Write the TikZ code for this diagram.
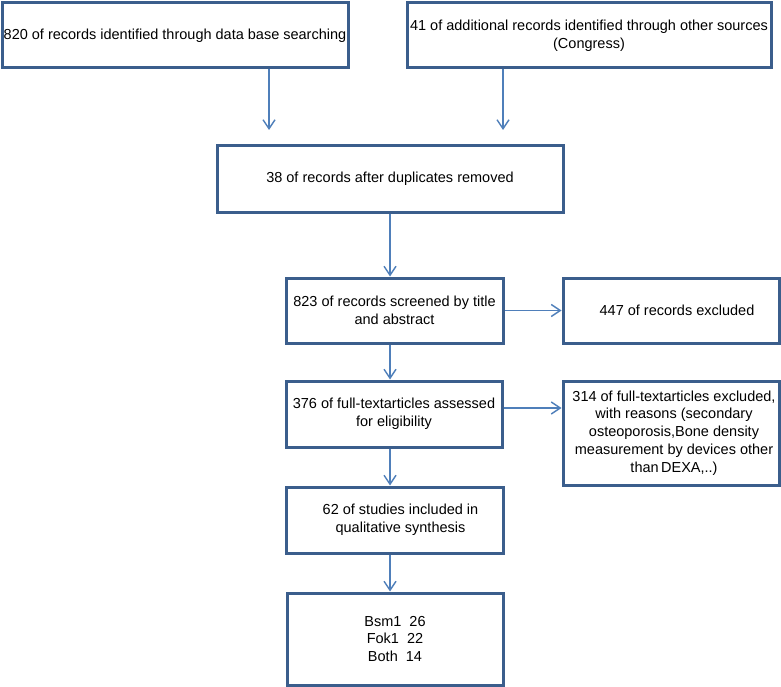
\documentclass[tikz,border=0pt]{standalone}
\usepackage{fontspec}
\setmainfont{Liberation Sans}
\usetikzlibrary{arrows.meta}
\definecolor{boxline}{HTML}{3B5E8C}
\definecolor{arrowline}{HTML}{4F7FBA}
\tikzset{
  box/.style={draw=boxline, line width=3pt, fill=white, inner sep=0pt, align=center,
    font=\fontsize{14.5}{17.8}\selectfont},
  flow/.style={draw=arrowline, line width=1.4pt,
    -{Straight Barb[length=9pt,width=12pt,line width=1.4pt]}}
}
\begin{document}
\begin{tikzpicture}[x=1pt,y=-1pt]
\useasboundingbox (0,0) rectangle (781,687);
\node[box, minimum width=346pt, minimum height=65pt] (b1) at (175,35.5) {820 of records identified through data base searching};
\node[box, minimum width=364pt, minimum height=65pt] (b2) at (589,35.5) {41 of additional records identified through other sources\\(Congress)};
\node[box, minimum width=346pt, minimum height=66pt] (b3) at (390,179) {38 of records after duplicates removed};
\node[box, minimum width=217pt, minimum height=65pt] (b4) at (394.5,310.5) {823 of records screened by title\\and abstract};
\node[box, minimum width=216pt, minimum height=65pt] (b5) at (671,310.5) {\hspace*{12pt}447 of records excluded};
\node[box, minimum width=216pt, minimum height=104pt] (b7) at (671,433) {\hspace*{6pt}314 of full-textarticles excluded,\\\hspace*{6pt}with reasons (secondary\\\hspace*{6pt}osteoporosis,Bone density\\\hspace*{6pt}measurement by devices other\\\hspace*{6pt}than\,DEXA,..)};
\node[box, minimum width=216pt, minimum height=66pt] (b6) at (394,414) {376 of full-textarticles assessed\\for eligibility};
\node[box, minimum width=217pt, minimum height=66pt] (b8) at (394.5,520) {\hspace*{12pt}62 of studies included in\\\hspace*{12pt}qualitative synthesis};
\node[box, minimum width=216pt, minimum height=92pt] (b9) at (395,639) {Bsm1\ \ 26\\Fok1\ \ 22\\Both\ \ 14};
\coordinate (e1) at (269,130);
\coordinate (e2) at (503,130);
\draw[flow] (b1.south -| e1) -- (e1);
\draw[flow] (b2.south -| e2) -- (e2);
\draw[flow] (b3.south) -- (b3.south |- b4.north);
\draw[flow] (b4.east) -- (b5.west);
\draw[flow] (b3.south |- b4.south) -- (b3.south |- b6.north);
\draw[flow] ([yshift=6pt]b6.east) -- ([yshift=6pt]b6.east -| b7.west);
\draw[flow] (b3.south |- b6.south) -- (b3.south |- b8.north);
\draw[flow] (b3.south |- b8.south) -- (b3.south |- b9.north);
\end{tikzpicture}
\end{document}
